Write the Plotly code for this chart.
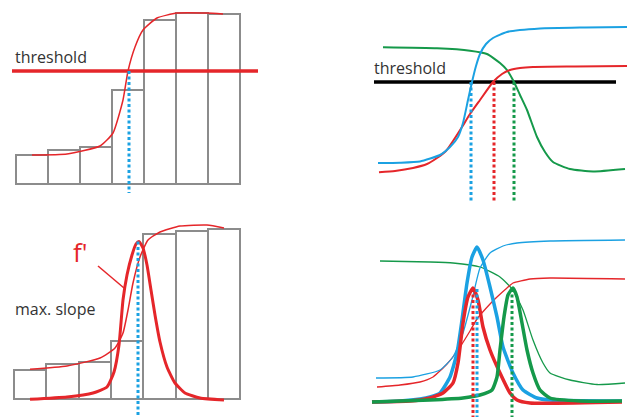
import plotly.graph_objects as go

# ---------------- data (panel-local units) ----------------
# Top-left: bar heights and sigmoid fit
tl_bar_heights = [29, 34, 37, 94, 164, 171, 170]
tl_fit_x = [32, 67, 100, 113, 123, 128, 135, 143, 157, 177, 207, 223]
tl_fit_y = [53, 54, 62, 75, 108, 137, 161, 178, 190, 195, 195, 194]
tl_threshold_x = [12, 258]
tl_threshold_y = 137
tl_cross_x = 129

# Top-right: three sigmoid curves
tr_blue_x = [63, 85, 105, 125, 135, 143, 148, 153, 157, 161, 165, 171, 178, 192, 225, 270, 312]
tr_blue_y = [45, 45.3, 46.5, 53, 61, 71, 85, 108, 126, 142, 154, 164, 170, 176, 179.5, 180.5, 181]
tr_green_x = [68, 122, 155, 172, 185, 192, 199, 205, 212, 222, 230, 238, 255, 278, 310]
tr_green_y = [160.7, 159.7, 157.3, 154, 145, 138, 126, 113, 98, 71, 56, 46, 39, 36.5, 39]
tr_red_x = [64, 80, 98, 112, 122, 131, 138, 147, 155, 165, 178, 187, 195, 205, 218, 260, 312]
tr_red_y = [35.7, 37, 40, 44, 50, 57, 67, 81, 94, 108, 126, 134, 138, 140, 141, 141.5, 142]
tr_threshold_x = [59, 301]
tr_threshold_y = 126
tr_cross_x = {"blue": 156, "red": 179, "green": 199}

# Bottom-left: bar heights, sigmoid fit and its derivative
bl_bar_heights = [29, 35, 37, 58, 165, 168, 170]
bl_fit_x = [30, 67, 100, 115, 123, 128, 133, 140, 148, 160, 180, 207, 224]
bl_fit_y = [47.7, 51, 59, 69, 84, 107, 134, 160, 177, 185, 191, 192, 189]
bl_deriv_x = [30, 67, 93, 107, 114, 119, 123, 127, 132, 136, 139, 143, 147, 151, 155, 160, 167, 175, 185, 200, 224]
bl_deriv_y = [17.7, 20, 24, 30, 45, 72, 117, 142, 162, 173, 175.5, 169, 152, 127, 102, 75, 50, 34, 24, 19, 17]
bl_peak_x = 138
bl_peak_y = 175.5

# Bottom-right: thin sigmoids and thick derivatives
br_blue_x = [61, 98, 125, 138, 148, 157, 165, 175, 188, 202, 235, 310]
br_blue_y = [39, 40, 47, 60, 84, 117, 149, 164, 171, 174, 176, 177]
br_red_x = [62, 85, 105, 118, 132, 145, 155, 162, 175, 182, 192, 198, 215, 235, 310]
br_red_y = [30, 32, 35, 40, 53, 70, 86, 98, 113, 120, 129, 134, 138, 139, 138]
br_green_x = [65, 115, 138, 165, 185, 198, 208, 218, 228, 235, 255, 282, 310]
br_green_y = [156, 155, 154, 150, 140, 127, 107, 77, 54, 44, 37, 32.5, 34]
br_dblue_x = [57, 85, 105, 115, 125, 135, 142, 147, 152, 157, 162, 168, 175, 182, 188, 198, 208, 222, 235, 307]
br_dblue_y = [15, 16, 18, 20, 24, 40, 64, 97, 134, 160, 170, 157, 130, 100, 70, 44, 27, 19, 17, 16]
br_dred_x = [57, 95, 115, 128, 138, 143, 148, 153, 158, 163, 168, 175, 185, 195, 202, 215, 307]
br_dred_y = [15, 16, 19, 24, 34, 54, 94, 120, 129, 117, 90, 67, 44, 24, 17, 14, 15]
br_dgreen_x = [57, 115, 148, 165, 177, 182, 185, 189, 193, 198, 202, 207, 212, 218, 225, 235, 265, 307]
br_dgreen_y = [15, 17, 19, 22, 27, 40, 67, 100, 122, 129, 120, 94, 67, 44, 27, 19, 16, 16]
br_peak_x = {"red": 158, "blue": 162, "green": 197}
br_peak_top = 128

labels = {"threshold": "threshold", "slope": "max. slope", "deriv": "f'"}

# ---------------- styling ----------------
BLUE = "#1ba1e2"
RED = "#e5262a"
GREEN = "#15994a"
GRAY = "#8c8c8c"
TEXT = "#333333"
FONT = "Open Sans"
W, H = 631, 417
SPLIT_X, SPLIT_Y = 315, 208

fig = go.Figure()


def line(x, y, color, width, ax, dash=None, spline=True):
    fig.add_trace(go.Scatter(
        x=x, y=y, mode="lines", xaxis="x" + ax, yaxis="y" + ax,
        line=dict(color=color, width=width, dash=dash,
                  shape="spline" if spline else "linear", smoothing=0.5),
        hoverinfo="skip", showlegend=False))


def bars(heights, left, width, base, ax):
    xs = [left + width * (i + 0.5) for i in range(len(heights))]
    fig.add_trace(go.Bar(
        x=xs, y=heights, base=base, width=width, xaxis="x" + ax, yaxis="y" + ax,
        marker=dict(color="white", line=dict(color=GRAY, width=2)),
        hoverinfo="skip", showlegend=False))


DOT = "3px,2.5px"

# Top-left
bars(tl_bar_heights, 16, 32, 24, "")
line(tl_fit_x, tl_fit_y, RED, 1.5, "")
line(tl_threshold_x, [tl_threshold_y] * 2, RED, 3.5, "", spline=False)
line([tl_cross_x] * 2, [tl_threshold_y, 15], BLUE, 3, "", dash=DOT, spline=False)

# Top-right
line(tr_threshold_x, [tr_threshold_y] * 2, "black", 3.5, "2", spline=False)
line(tr_green_x, tr_green_y, GREEN, 2, "2")
line(tr_red_x, tr_red_y, RED, 2, "2")
line(tr_blue_x, tr_blue_y, BLUE, 2, "2")
for name, col in (("blue", BLUE), ("red", RED), ("green", GREEN)):
    line([tr_cross_x[name]] * 2, [tr_threshold_y, 7], col, 3, "2", dash=DOT, spline=False)

# Bottom-left
bars(bl_bar_heights, 14, 32.3, 18, "3")
line(bl_fit_x, bl_fit_y, RED, 1.5, "3")
line(bl_deriv_x, bl_deriv_y, RED, 3, "3")
line([bl_peak_x] * 2, [bl_peak_y, 1], BLUE, 3, "3", dash=DOT, spline=False)
line([98, 124], [151, 129], RED, 1.5, "3", spline=False)

# Bottom-right
line(br_green_x, br_green_y, GREEN, 1.3, "4")
line(br_red_x, br_red_y, RED, 1.3, "4")
line(br_blue_x, br_blue_y, BLUE, 1.3, "4")
line(br_dblue_x, br_dblue_y, BLUE, 3.5, "4")
line(br_dred_x, br_dred_y, RED, 3.5, "4")
line(br_dgreen_x, br_dgreen_y, GREEN, 3.5, "4")
for name, col in (("red", RED), ("blue", BLUE), ("green", GREEN)):
    line([br_peak_x[name]] * 2, [br_peak_top, 0], col, 3, "4", dash=DOT, spline=False)

annotations = [
    dict(x=13, y=151, xref="x", yref="y", text=labels["threshold"], xanchor="left",
         yanchor="middle", showarrow=False, font=dict(family=FONT, size=16, color=TEXT)),
    dict(x=57, y=140, xref="x2", yref="y2", text=labels["threshold"], xanchor="left",
         yanchor="middle", showarrow=False, font=dict(family=FONT, size=16, color=TEXT)),
    dict(x=13, y=108, xref="x3", yref="y3", text=labels["slope"], xanchor="left",
         yanchor="middle", showarrow=False, font=dict(family=FONT, size=16, color=TEXT)),
    dict(x=71, y=165, xref="x3", yref="y3", text=labels["deriv"], xanchor="left",
         yanchor="middle", showarrow=False, font=dict(family=FONT, size=26, color=RED)),
]

ax_common = dict(visible=False, showgrid=False, zeroline=False, fixedrange=True)
lx = [0, SPLIT_X / W]
rx = [SPLIT_X / W, 1]
ty = [(H - SPLIT_Y) / H, 1]
by = [0, (H - SPLIT_Y) / H]

fig.update_layout(
    width=W, height=H, margin=dict(l=0, r=0, t=0, b=0),
    paper_bgcolor="white", plot_bgcolor="white",
    barmode="overlay", bargap=0, showlegend=False,
    xaxis=dict(domain=lx, range=[0, SPLIT_X], anchor="y", **ax_common),
    yaxis=dict(domain=ty, range=[0, SPLIT_Y], anchor="x", **ax_common),
    xaxis2=dict(domain=rx, range=[0, W - SPLIT_X], anchor="y2", **ax_common),
    yaxis2=dict(domain=ty, range=[0, SPLIT_Y], anchor="x2", **ax_common),
    xaxis3=dict(domain=lx, range=[0, SPLIT_X], anchor="y3", **ax_common),
    yaxis3=dict(domain=by, range=[0, H - SPLIT_Y], anchor="x3", **ax_common),
    xaxis4=dict(domain=rx, range=[0, W - SPLIT_X], anchor="y4", **ax_common),
    yaxis4=dict(domain=by, range=[0, H - SPLIT_Y], anchor="x4", **ax_common),
    annotations=annotations,
)

fig.write_html("out.html", config={"displayModeBar": False},
               post_script="document.body.style.margin='0px';document.body.style.overflow='hidden';")
